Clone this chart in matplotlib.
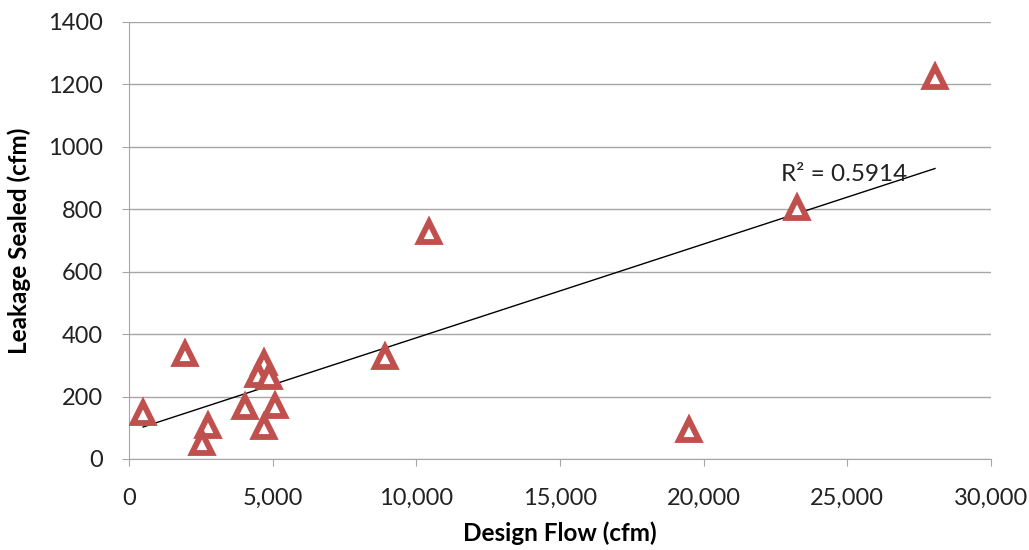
import numpy as np
import matplotlib.pyplot as plt
from matplotlib.ticker import FuncFormatter

# data
design_flow = [490, 1950, 2750, 2540, 4040, 4700, 4490, 4870, 5080, 4700,
               8910, 10440, 19490, 23250, 28050]
leakage_sealed = [147, 336, 106, 51, 167, 308, 269, 263, 170, 103,
                  327, 727, 93, 804, 1224]
r2_label = "R\u00b2 = 0.5914"

plt.rcParams['font.family'] = ['Lato', 'DejaVu Sans']

fig = plt.figure(figsize=(10.29, 5.5), dpi=100)
ax = fig.add_axes([0.1254, 0.1655, 0.8377, 0.7945])

x = np.array(design_flow, dtype=float)
y = np.array(leakage_sealed, dtype=float)

# linear trendline
slope, intercept = np.polyfit(x, y, 1)
xs = np.array([x.min(), x.max()])
ax.plot(xs, slope * xs + intercept, color='black', lw=1.0, zorder=2)

ax.plot(x, y, linestyle='none', marker='^', ms=15, mfc='white',
        mec='#C0504D', mew=4.2, zorder=3)

ax.text(22700, 910, r2_label, fontsize=17.5, color='#222222', va='center')

ax.set_xlim(0, 30000)
ax.set_ylim(0, 1400)
ax.set_xticks(np.arange(0, 30001, 5000))
ax.set_yticks(np.arange(0, 1401, 200))
ax.xaxis.set_major_formatter(FuncFormatter(lambda v, p: f'{int(v):,}'))

ax.grid(axis='y', color='#A6A6A6', lw=1.0)
ax.set_axisbelow(True)
for s in ['top', 'right']:
    ax.spines[s].set_visible(False)
for s in ['left', 'bottom']:
    ax.spines[s].set_color('#A6A6A6')
ax.tick_params(axis='both', colors='#A6A6A6', labelcolor='#222222',
               labelsize=17, length=5, direction='out')
ax.tick_params(axis='x', pad=16)
ax.tick_params(axis='y', pad=14)

ax.set_xlabel('Design Flow (cfm)', fontsize=17.5, fontweight='bold', labelpad=9)
ax.set_ylabel('Leakage Sealed (cfm)', fontsize=17.5, fontweight='bold', labelpad=12)

fig.savefig('out.png', dpi=100)
